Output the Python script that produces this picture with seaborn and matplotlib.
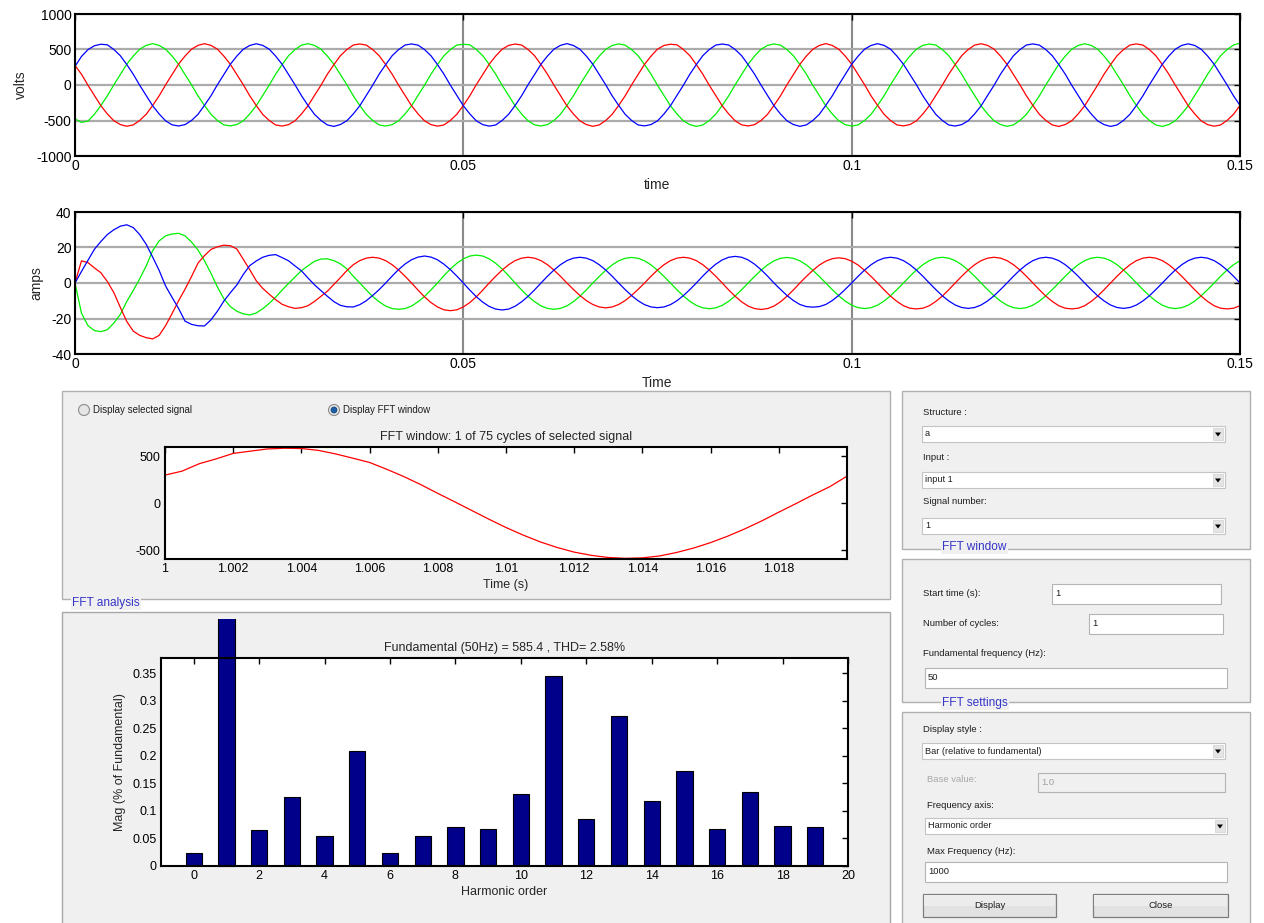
import numpy as np
import pandas as pd
import matplotlib
matplotlib.use("Agg")
import matplotlib.pyplot as plt
import seaborn as sns
from matplotlib.patches import Rectangle, Ellipse, Polygon
from matplotlib.transforms import Bbox, TransformedBbox

# ---------------- data ----------------
SAMPLE_RATE = 1200.0  # samples per second of the read-off values

volts_blue = [262, 402, 498, 553,
    574, 566, 500, 413, 288, 152, -4, -148, -293, -408, -505, -561, -577, -558, -500, -413, -287, -153, 3, 148, 292, 407, 503, 557,
    581, 558, 505, 407, 292, 147, 2, -152, -288, -413, -499, -563, -583, -557, -504, -407, -293, -147, -2, 153, 287, 412, 499, 563,
    578, 562, 499, 412, 288, 153, -3, -147, -292, -407, -504, -558, -579, -563, -499, -412, -288, -152, 4, 147, 293, 408, 504, 558,
    583, 557, 504, 408, 293, 148, 3, -153, -287, -412, -500, -562, -576, -557, -505, -408, -292, -148, -3, 152, 288, 413, 500, 562,
    577, 563, 500, 413, 287, 152, -2, -148, -293, -408, -504, -557, -582, -562, -500, -413, -287, -153, 2, 148, 292, 407, 505, 557,
    582, 558, 505, 407, 292, 147, 4, -152, -288, -413, -499, -563, -578, -558, -504, -407, -293, -147, -4, 153, 287, 412, 499, 563,
    579, 562, 499, 412, 288, 153, -3, -147, -292, -407, -505, -558, -583, -563, -499, -412, -288, -152, 3, 147, 293, 408, 504, 558,
    580, 557, 504, 408, 293, 148, 2, -153, -287]

volts_green = [-478, -527, -508, -412, -288, -152, 2, 148, 293, 407, 504, 558,
    583, 557, 504, 408, 293, 148, 3, -153, -287, -412, -500, -562, -576, -557, -505, -408, -292, -148, -3, 152, 288, 413, 500, 562,
    582, 558, 505, 407, 292, 147, 4, -152, -288, -413, -499, -563, -578, -558, -504, -407, -293, -147, -4, 153, 287, 412, 499, 563,
    574, 566, 500, 413, 288, 152, -4, -148, -293, -408, -505, -561, -577, -558, -500, -413, -287, -153, 3, 148, 292, 407, 503, 557,
    579, 562, 499, 412, 288, 153, -3, -147, -292, -407, -505, -558, -583, -563, -499, -412, -288, -152, 3, 147, 293, 408, 504, 558,
    578, 562, 499, 412, 288, 153, -3, -147, -292, -407, -504, -558, -579, -563, -499, -412, -288, -152, 4, 147, 293, 408, 504, 558,
    577, 563, 500, 413, 287, 152, -2, -148, -293, -408, -504, -557, -582, -562, -500, -413, -287, -153, 2, 148, 292, 407, 505, 557,
    581, 558, 505, 407, 292, 147, 2, -152, -288, -413, -499, -563, -583, -557, -504, -407, -293, -147, -2, 153, 287, 412, 499, 563,
    590]

volts_red = [275, 152, -3, -148, -292, -408, -503, -557, -581, -562, -499, -412, -288, -153, 3, 147, 293, 408, 504, 558,
    582, 558, 505, 407, 292, 147, 4, -152, -288, -413, -499, -563, -578, -558, -504, -407, -293, -147, -4, 153, 287, 412, 499, 563,
    578, 562, 499, 412, 288, 153, -3, -147, -292, -407, -504, -558, -579, -563, -499, -412, -288, -152, 4, 147, 293, 408, 504, 558,
    577, 563, 500, 413, 287, 152, -2, -148, -293, -408, -504, -557, -582, -562, -500, -413, -287, -153, 2, 148, 292, 407, 505, 557,
    574, 566, 500, 413, 288, 152, -4, -148, -293, -408, -505, -561, -577, -558, -500, -413, -287, -153, 3, 148, 292, 407, 503, 557,
    583, 557, 504, 408, 293, 148, 3, -153, -287, -412, -500, -562, -576, -557, -505, -408, -292, -148, -3, 152, 288, 413, 500, 562,
    581, 558, 505, 407, 292, 147, 2, -152, -288, -413, -499, -563, -583, -557, -504, -407, -293, -147, -2, 153, 287, 412, 499, 563,
    579, 562, 499, 412, 288, 153, -2, -147, -292, -407, -505, -558, -580, -563, -499, -412, -288]

amps_blue = [0, 6.5, 12.7, 19, 23.4, 27.3, 30, 32, 32.8, 31.2, 27.3, 21.8,
    14.6, 7.1, -1.7, -8.1, -14.3, -21.5, -23.3, -24.1, -24.2, -20.8, -15.9, -10.2,
    -5.5, -1.1, 4.8, 9.8, 12.4, 14.5, 15.6, 16.0, 14.3, 12.5, 9.6, 6.8,
    2.8, -1.0, -4.3, -7.5, -10.5, -12.6, -13.4,
    -13.5, -12.2, -10, -7, -3.7, 0, 3.9, 7.6, 10.7, 13.1, 14.6,
    15.2, 14.6, 13.1, 10.6, 7.5, 3.9, 0, -4, -7.7, -10.8, -13.2, -14.7,
    -15.2, -14.7, -13.1, -10.6, -7.5, -3.9, 0, 3.8, 7.3, 10.3, 12.6, 14.0,
    14.5, 14.0, 12.6, 10.3, 7.3, 3.8, 0, -3.7, -7.1, -10.0, -12.2, -13.5,
    -13.9, -13.5, -12.2, -10, -7.1, -3.7, 0, 3.9, 7.5, 10.6, 13.0, 14.5,
    15.0, 14.5, 13.0, 10.6, 7.5, 3.9, 0, -3.6, -7, -9.9, -12.1, -13.3,
    -13.6, -13.3, -12.1, -9.9, -7, -3.6, 0, 3.8, 7.3, 10.3, 12.6, 14.0,
    14.5, 14.0, 12.6, 10.3, 7.3, 3.8, 0, -3.7, -7.2, -10.1, -12.4, -13.8,
    -14.3, -13.8, -12.4, -10.1, -7.2, -3.7, 0, 3.8, 7.3, 10.3, 12.6, 14.0,
    14.5, 14.0, 12.6, 10.3, 7.3, 3.8, 0, -3.7, -7.2, -10.1, -12.4, -13.8,
    -14.3, -13.8, -12.4, -10.1, -7.2, -3.7, 0, 3.8, 7.3, 10.3, 12.6, 14.0,
    14.5, 14.0, 12.6, 10.3, 7.3, 3.8, 0]

amps_green = [0, -17, -24, -26.8, -27.4, -26.3, -22.6, -17.7, -10.4, -4.2, 2.4, 9.6,
    18.2, 23.7, 26.6, 27.6, 28.0, 26.6, 23.1, 18.6, 12.6, 5.5, -2.2, -8.9,
    -13.3, -15.9, -17.4, -18, -16.9, -14.5, -11.5, -8, -4, -0.2, 3.4, 7,
    9.7, 12.2, 13.5, 13.6, 12.6, 10.8, 8.0,
    3.8, 0, -3.9, -7.6, -10.6, -13, -14.4, -14.8, -14.4, -13, -10.6,
    -7.6, -3.9, 0, 4.1, 7.9, 11.1, 13.6, 15.2, 15.7, 15.2, 13.6, 11.1,
    7.9, 4.1, 0, -3.9, -7.5, -10.5, -12.9, -14.3, -14.8, -14.3, -12.9, -10.5,
    -7.5, -3.9, 0, 3.7, 7.2, 10.2, 12.5, 13.9, 14.4, 13.9, 12.5, 10.2,
    7.2, 3.7, 0, -3.8, -7.3, -10.3, -12.6, -14.0, -14.5, -14.0, -12.6, -10.3,
    -7.3, -3.8, 0, 3.7, 7.2, 10.2, 12.5, 13.9, 14.4, 13.9, 12.5, 10.2,
    7.2, 3.7, 0, -3.7, -7.2, -10.2, -12.5, -13.9, -14.4, -13.9, -12.5, -10.2,
    -7.2, -3.7, 0, 3.8, 7.3, 10.3, 12.6, 14.0, 14.5, 14.0, 12.6, 10.3,
    7.3, 3.8, 0, -3.7, -7.2, -10.2, -12.5, -13.9, -14.4, -13.9, -12.5, -10.2,
    -7.2, -3.7, 0, 3.8, 7.3, 10.3, 12.6, 14.0, 14.5, 14.0, 12.6, 10.3,
    7.3, 3.8, 0, -3.7, -7.2, -10.2, -12.5, -13.9, -14.4, -13.9, -12.5, -10.2,
    -7.2, -3.7, 0, 3.8, 7.3, 10.3, 12.6]

amps_red = [0, 12.5, 11.5, 8.5, 5.8, 0.8, -5.4, -13.7, -21.7, -27.1, -29.5, -30.8,
    -31.5, -29.5, -24.0, -17.2, -10, -3.5, 3.6, 11.2, 15.4, 18.9, 20.4, 21.3,
    21.0, 19.2, 13.3, 7.5, 1.3, -3.0, -6.3, -9.4, -12, -13.4, -14.3, -13.9,
    -12.8, -10.4, -7.5, -4.6, -0.8, 3.0, 7.0,
    10.3, 12.6, 14.0, 14.5, 14.0, 12.6, 10.3, 7.3, 3.8, 0, -4,
    -7.8, -11, -13.5, -15.1, -15.6, -15.1, -13.5, -11, -7.8, -4, 0, 3.8,
    7.3, 10.3, 12.6, 14.0, 14.5, 14.0, 12.6, 10.3, 7.3, 3.8, 0, -3.6,
    -7, -9.9, -12.1, -13.5, -14, -13.5, -12.1, -9.9, -7, -3.6, 0, 3.8,
    7.3, 10.3, 12.6, 14.0, 14.5, 14.0, 12.6, 10.3, 7.3, 3.8, 0, -3.9,
    -7.5, -10.6, -13, -14.4, -14.9, -14.4, -13, -10.6, -7.5, -3.9, 0, 3.7,
    7.1, 10.1, 12.3, 13.7, 14.2, 13.7, 12.3, 10.1, 7.1, 3.7, 0, -3.8,
    -7.4, -10.4, -12.8, -14.2, -14.6, -14.2, -12.8, -10.4, -7.4, -3.8, 0, 3.8,
    7.3, 10.3, 12.6, 14.0, 14.5, 14.0, 12.6, 10.3, 7.3, 3.8, 0, -3.8,
    -7.4, -10.4, -12.8, -14.2, -14.6, -14.2, -12.8, -10.4, -7.4, -3.8, 0, 3.8,
    7.3, 10.3, 12.6, 14.0, 14.5, 14.0, 12.6, 10.3, 7.3, 3.8, 0, -3.8,
    -7.4, -10.4, -12.8, -14.2, -14.6, -14.2, -12.8]

# FFT window signal: one cycle, sampled every 0.5 ms from t = 1 s
FFT_T0, FFT_DT = 1.0, 0.0005
fft_window_volts = [298, 340, 418, 470, 528, 552, 575, 583, 580, 560, 523, 478, 432, 360,
    283, 197, 104, 14, -78, -170, -258, -338, -410, -470, -519, -553, -576, -585,
    -580, -560, -523, -476, -418, -350, -273, -188, -95, -5, 88, 176, 287]

harmonic_order = list(range(20))
harmonic_mag = [0.023, 100.0, 0.065, 0.125, 0.055, 0.208, 0.024, 0.055, 0.071, 0.067,
                0.130, 0.345, 0.085, 0.273, 0.118, 0.173, 0.068, 0.134, 0.073, 0.070]

volt_ticks = [-1000, -500, 0, 500, 1000]
volt_ticklabels = ['-1000', '-500', '0', '500', '1000']
amp_ticks = [-40, -20, 0, 20, 40]
amp_ticklabels = ['-40', '-20', '0', '20', '40']
time_ticks = [0, 0.05, 0.1, 0.15]
time_ticklabels = ['0', '0.05', '0.1', '0.15']
fft_x_ticks = [1.0, 1.002, 1.004, 1.006, 1.008, 1.01, 1.012, 1.014, 1.016, 1.018]
fft_x_ticklabels = ['1', '1.002', '1.004', '1.006', '1.008', '1.01', '1.012', '1.014', '1.016', '1.018']
fft_y_ticks = [-500, 0, 500]
fft_y_ticklabels = ['-500', '0', '500']
bar_y_ticks = [0, 0.05, 0.1, 0.15, 0.2, 0.25, 0.3, 0.35]
bar_y_ticklabels = ['0', '0.05', '0.1', '0.15', '0.2', '0.25', '0.3', '0.35']
bar_x_ticks = [0, 2, 4, 6, 8, 10, 12, 14, 16, 18, 20]

# ---------------- style ----------------
sns.set_style("white")
plt.rcParams['font.family'] = ['Liberation Sans', 'DejaVu Sans']
plt.rcParams['axes.unicode_minus'] = False

W, H = 1264, 923
fig = plt.figure(figsize=(W / 100, H / 100), dpi=100)
fig.patch.set_facecolor('white')


def ax_px(x0, y0, x1, y1):
    return fig.add_axes([x0 / W, 1 - y1 / H, (x1 - x0) / W, (y1 - y0) / H])


def box_style(ax, labelsize):
    ax.set_facecolor('white')
    for s in ax.spines.values():
        s.set_visible(True)
        s.set_color('black')
        s.set_linewidth(1.5)
    ax.tick_params(direction='in', length=4, width=1, top=True, right=True,
                   labelsize=labelsize, pad=3, colors='black')


def scope(ax, series, yticks, yticklabels, ylabel, xlabel):
    for vals, col in series:
        t = np.arange(len(vals)) / SAMPLE_RATE
        sns.lineplot(x=t, y=np.asarray(vals, float), color=col, linewidth=0.9,
                     ax=ax, estimator=None, sort=False, legend=False)
    ax.set_xlim(time_ticks[0], time_ticks[-1])
    ax.set_ylim(yticks[0], yticks[-1])
    ax.set_xticks(time_ticks)
    ax.set_xticklabels(time_ticklabels)
    ax.set_yticks(yticks)
    ax.set_yticklabels(yticklabels)
    ax.set_axisbelow(True)
    ax.yaxis.grid(True, color='#ababab', linewidth=1.6)
    ax.xaxis.grid(True, color='#8a8a8a', linewidth=1.5)
    box_style(ax, 10)
    ax.tick_params(pad=2.5)
    ax.set_ylabel(ylabel, fontsize=10, labelpad=6)
    ax.set_xlabel(xlabel, fontsize=10, labelpad=3)


ax1 = ax_px(75, 14, 1240, 156)
scope(ax1, [(volts_green, '#00f000'), (volts_red, '#ff0000'), (volts_blue, '#0000ff')],
      volt_ticks, volt_ticklabels, 'volts', 'time')

ax2 = ax_px(75, 212, 1240, 354)
scope(ax2, [(amps_green, '#00f000'), (amps_red, '#ff0000'), (amps_blue, '#0000ff')],
      amp_ticks, amp_ticklabels, 'amps', 'Time')

# ---------------- GUI panels ----------------
PANEL = '#f0f0f0'
TXT = '#1e1e1e'
BLUE_T = '#3535c8'


def rect(x0, y0, x1, y1, fc, ec, lw=1.0, z=-2):
    fig.add_artist(Rectangle((x0 / W, 1 - y1 / H), (x1 - x0) / W, (y1 - y0) / H,
                             transform=fig.transFigure, facecolor=fc, edgecolor=ec,
                             linewidth=lw, zorder=z))


def txt(x, y, s, size=6.8, color=TXT, ha='left', va='center', **kw):
    fig.text(x / W, 1 - y / H, s, fontsize=size, color=color, ha=ha, va=va, **kw)


def group_title(x, y, s):
    txt(x, y, s, size=8.6, color=BLUE_T,
        bbox=dict(facecolor=PANEL, edgecolor='none', pad=1.0))


def dropdown(x0, y0, x1, y1, s):
    rect(x0, y0, x1, y1, 'white', '#c4c4c4', 0.8, z=-1.5)
    rect(x1 - 12, y0 + 2, x1 - 2, y1 - 2, '#e4e4e4', '#d0d0d0', 0.5, z=-1.4)
    cy = (y0 + y1) / 2
    tri = [((x1 - 10) / W, 1 - (cy - 1.5) / H), ((x1 - 4) / W, 1 - (cy - 1.5) / H),
           ((x1 - 7) / W, 1 - (cy + 2.5) / H)]
    fig.add_artist(Polygon(tri, closed=True, transform=fig.transFigure,
                           facecolor='black', edgecolor='none', zorder=-1.3))
    txt(x0 + 3, cy, s, size=6.6)


def textbox(x0, y0, x1, y1, s, color=TXT, fc='white'):
    rect(x0, y0, x1, y1, fc, '#b4b4b4', 0.8, z=-1.5)
    txt(x0 + 3, (y0 + y1) / 2, s, size=6.8, color=color)


def button(x0, y0, x1, y1, s):
    rect(x0, y0, x1, y1, '#e2e2e2', '#7d7d7d', 0.9, z=-1.5)
    rect(x0 + 1, y0 + 1, x1 - 1, (y0 + y1) / 2, '#ececec', 'none', 0, z=-1.4)
    txt((x0 + x1) / 2, (y0 + y1) / 2, s, size=6.8, ha='center')


def radio(cx, cy, selected):
    fig.add_artist(Ellipse((cx / W, 1 - cy / H), 11 / W, 11 / H, transform=fig.transFigure,
                           facecolor='#e6e6e6', edgecolor='#8c8c8c', linewidth=0.8, zorder=-1.5))
    if selected:
        fig.add_artist(Ellipse((cx / W, 1 - cy / H), 6 / W, 6 / H, transform=fig.transFigure,
                               facecolor='#1d5fa5', edgecolor='#0d3b70', linewidth=0.5, zorder=-1.4))


# left panels
rect(62, 391, 890, 599, PANEL, '#b0b0b0')
rect(62, 612, 890, 930, PANEL, '#a8a8a8')
group_title(72, 603, 'FFT analysis')
radio(84, 410, False)
txt(93, 410, 'Display selected signal', size=7.0)
radio(334, 410, True)
txt(343, 410, 'Display FFT window', size=7.0)

# right panels
rect(902, 391, 1250, 549, PANEL, '#b0b0b0')
rect(902, 559, 1250, 702, PANEL, '#b0b0b0')
rect(902, 712, 1250, 930, PANEL, '#b0b0b0')
group_title(942, 547, 'FFT window')
group_title(942, 703, 'FFT settings')

txt(923, 412, 'Structure :')
dropdown(922, 426, 1225, 442, 'a')
txt(923, 457, 'Input :')
dropdown(922, 472, 1225, 488, 'input 1')
txt(923, 502, 'Signal number:')
dropdown(922, 518, 1225, 534, '1')

txt(923, 594, 'Start time (s):')
textbox(1052, 584, 1221, 604, '1')
txt(923, 623, 'Number of cycles:')
textbox(1089, 614, 1223, 634, '1')
txt(923, 653, 'Fundamental frequency (Hz):')
textbox(925, 668, 1227, 688, '50')

txt(923, 729, 'Display style :')
dropdown(922, 743, 1225, 759, 'Bar (relative to fundamental)')
txt(927, 779, 'Base value:', color='#a8a8a8')
textbox(1038, 773, 1225, 792, '1.0', color='#a0a0a0', fc=PANEL)
txt(927, 806, 'Frequency axis:')
dropdown(925, 818, 1227, 834, 'Harmonic order')
txt(927, 851, 'Max Frequency (Hz):')
textbox(925, 862, 1227, 882, '1000')
button(923, 894, 1056, 917, 'Display')
button(1093, 894, 1228, 917, 'Close')

# ---------------- FFT window plot ----------------
ax3 = ax_px(165, 447, 847, 559)
t_fft = FFT_T0 + np.arange(len(fft_window_volts)) * FFT_DT
sns.lineplot(x=t_fft, y=np.asarray(fft_window_volts, float), color='#ff0000', linewidth=0.9,
             ax=ax3, estimator=None, sort=False, legend=False)
ax3.set_xlim(FFT_T0, t_fft[-1])
ax3.set_ylim(-592, 596)
ax3.set_xticks(fft_x_ticks)
ax3.set_xticklabels(fft_x_ticklabels)
ax3.set_yticks(fft_y_ticks)
ax3.set_yticklabels(fft_y_ticklabels)
box_style(ax3, 9)
ax3.set_xlabel('Time (s)', fontsize=9, labelpad=3)
ax3.set_ylabel('')
ax3.set_title('FFT window: 1 of 75 cycles of selected signal', fontsize=9, pad=5)

# ---------------- harmonic bar chart ----------------
ax4 = ax_px(161, 658, 848, 866)
sns.barplot(x=harmonic_order, y=harmonic_mag, native_scale=True, width=0.5,
            color='#00008b', saturation=1, edgecolor='black', linewidth=0.8,
            errorbar=None, ax=ax4)
ax4.set_xlim(-1, 20)
ax4.set_ylim(0, 0.3775)
ax4.set_xticks(bar_x_ticks)
ax4.set_xticklabels([str(v) for v in bar_x_ticks])
ax4.set_yticks(bar_y_ticks)
ax4.set_yticklabels(bar_y_ticklabels)
box_style(ax4, 9)
ax4.set_xlabel('Harmonic order', fontsize=9, labelpad=3)
ax4.set_ylabel('Mag (% of Fundamental)', fontsize=9, labelpad=5)
ax4.set_title('Fundamental (50Hz) = 585.4 , THD= 2.58%', fontsize=9, pad=5)
# the fundamental bar runs past the axes and is cut by the panel edge
clip = TransformedBbox(Bbox.from_extents(0, 0, 1, 1 - 619 / H), fig.transFigure)
for p in ax4.patches:
    if abs(p.get_x() + p.get_width() / 2 - 1) < 0.3:
        p.set_clip_path(None)
        p.set_clip_box(clip)

fig.savefig('out.png', dpi=100, facecolor='white')
